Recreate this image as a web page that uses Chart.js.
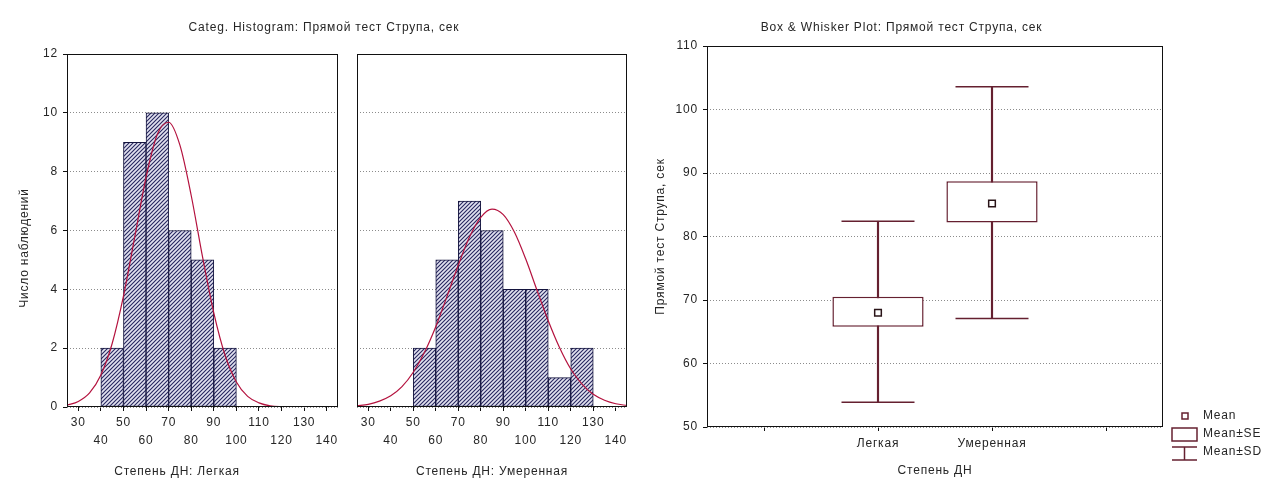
<!DOCTYPE html>
<html>
<head>
<meta charset="utf-8">
<script src="https://cdn.jsdelivr.net/npm/chart.js@4.4.1/dist/chart.umd.min.js"></script>
<style>
  body { margin: 0; background: #fff; width: 1266px; height: 480px; overflow: hidden; position: relative; }
  canvas { position: absolute; top: 0; }
</style>
</head>
<body>
<canvas id="histLight" width="640" height="480" style="left:0"></canvas>
<canvas id="histMod" width="295" height="480" style="left:345px"></canvas>
<canvas id="boxPlot" width="626" height="480" style="left:640px"></canvas>
<script>
// histogram bins (start of each 10-sec bin) and counts
const binStartLight = [40, 50, 60, 70, 80, 90];
const countLight = [2, 9, 10, 6, 5, 2];
const binStartMod = [50, 60, 70, 80, 90, 100, 110, 120];
const countMod = [2, 5, 7, 6, 4, 4, 1, 2];

// fitted normal curves, every 5 sec
const curveX = [25, 30, 35, 40, 45, 50, 55, 60, 65, 70, 75, 80, 85, 90, 95, 100, 105, 110, 115, 120, 125, 130, 135, 140, 145];
const curveLight = [0.06, 0.19, 0.48, 1.09, 2.16, 3.77, 5.78, 7.81, 9.27, 9.68, 8.9, 7.19, 5.11, 3.2, 1.76, 0.85, 0.36, 0.14, 0.04, 0.01, 0, 0, 0, 0, 0];
const curveMod = [0.04, 0.09, 0.2, 0.38, 0.69, 1.18, 1.86, 2.73, 3.76, 4.82, 5.78, 6.45, 6.73, 6.54, 5.94, 5.03, 3.97, 2.93, 2.02, 1.29, 0.78, 0.43, 0.23, 0.11, 0.05];

const histTicks = [30, 40, 50, 60, 70, 80, 90, 100, 110, 120, 130, 140];

// box & whisker
const groups = ['', 'Легкая', 'Умеренная', ''];
const meanVals = [null, 68.0, 85.2, null];
const seLow = [null, 65.8, 82.2, null];
const seHigh = [null, 70.5, 88.7, null];
const sdLow = [null, 53.9, 67.1, null];
const sdHigh = [null, 82.4, 103.6, null];

const ink = '#262626';
const curveColor = '#b4123e';
const boxInk = '#652030';
const fontFamily = "'Liberation Sans', Arial, sans-serif";

Chart.defaults.font.family = fontFamily;
Chart.defaults.font.size = 12;
Chart.defaults.color = ink;
Chart.defaults.animation = false;
Chart.defaults.events = [];
Chart.defaults.plugins.legend.display = false;
Chart.defaults.plugins.tooltip.enabled = false;

// statistica text is spaced out a bit
Chart.register({ id: 'spacing', beforeDraw(chart) { chart.ctx.letterSpacing = '0.8px'; } });

const frame = {
  id: 'frame',
  afterDatasetsDraw(chart) {
    const a = chart.chartArea, ctx = chart.ctx;
    ctx.save();
    ctx.strokeStyle = '#111';
    ctx.lineWidth = 1;
    ctx.strokeRect(Math.round(a.left) + 0.5, Math.round(a.top) + 0.5, Math.round(a.right - a.left) - 1, Math.round(a.bottom - a.top) - 1);
    ctx.restore();
  }
};

function makeHatch() {
  const c = document.createElement('canvas');
  c.width = 4; c.height = 4;
  const g = c.getContext('2d');
  g.fillStyle = '#e2e2f0';
  g.fillRect(0, 0, 4, 4);
  g.strokeStyle = '#26265e';
  g.lineWidth = 1.1;
  g.beginPath();
  g.moveTo(0, 4); g.lineTo(4, 0);
  g.moveTo(-1, 1); g.lineTo(1, -1);
  g.moveTo(3, 5); g.lineTo(5, 3);
  g.stroke();
  return g.createPattern(c, 'repeat');
}
const hatch = makeHatch();

function histData(starts, counts, curve) {
  return {
    datasets: [{
      type: 'line',
      data: curveX.map((x, i) => ({ x: x, y: curve[i] })),
      borderColor: curveColor,
      borderWidth: 1.2,
      pointRadius: 0,
      tension: 0.4,
      cubicInterpolationMode: 'monotone',
      order: 0
    }, {
      type: 'bar',
      data: starts.map((s, i) => ({ x: s + 5, y: counts[i] })),
      backgroundColor: hatch,
      borderColor: '#14143e',
      borderWidth: 1,
      borderSkipped: false,
      barPercentage: 1,
      categoryPercentage: 1,
      order: 1
    }]
  };
}

function histX(titleText) {
  return {
    type: 'linear',
    min: 25,
    max: 145,
    offset: false,
    afterBuildTicks(scale) { scale.ticks = histTicks.map(v => ({ value: v })); },
    afterFit(scale) { scale.height = 73; },
    ticks: {
      font: { size: 12, lineHeight: 1.5 },
      padding: 3,
      maxRotation: 0,
      autoSkip: false,
      callback: v => ((v / 10) % 2 === 1 ? String(v) : ['', String(v)])
    },
    grid: { drawOnChartArea: false, offset: false, tickLength: 4, tickColor: '#111' },
    border: { display: false },
    title: titleText ? { display: true, text: titleText, padding: { top: 0, bottom: 1 } } : { display: false }
  };
}

function histY(width, showLabels) {
  return {
    min: 0,
    max: 12,
    afterFit(scale) { scale.width = width; },
    ticks: { stepSize: 2, display: showLabels, padding: 5 },
    grid: { color: '#8c8c8c', drawTicks: showLabels, tickLength: 4, tickColor: '#111', tickBorderDash: [] },
    border: { display: false, dash: [1, 2] }
  };
}

const lightTitles = {
  id: 'lightTitles',
  afterDraw(chart) {
    const ctx = chart.ctx;
    ctx.save();
    ctx.fillStyle = ink;
    ctx.font = '12px ' + fontFamily;
    ctx.textAlign = 'center';
    ctx.textBaseline = 'middle';
    ctx.fillText('Степень ДН: Легкая', 177, 472);
    ctx.translate(25, 248);
    ctx.rotate(-Math.PI / 2);
    ctx.fillText('Число наблюдений', 0, 0);
    ctx.restore();
  }
};

new Chart(document.getElementById('histLight'), {
  type: 'bar',
  data: histData(binStartLight, countLight, curveLight),
  options: {
    responsive: false,
    layout: { padding: { left: 8, right: 0, top: 0, bottom: 0 } },
    plugins: {
      title: {
        display: true,
        text: 'Categ. Histogram: Прямой тест Струпа, сек',
        font: { size: 12, weight: 'normal' },
        color: ink,
        padding: { top: 20, bottom: 19.6 }
      }
    },
    scales: {
      x: histX(null),
      y: histY(59, true),
      pad: {
        position: 'right',
        display: true,
        afterFit(scale) { scale.width = 302; },
        ticks: { display: false },
        grid: { display: false },
        border: { display: false }
      }
    }
  },
  plugins: [frame, lightTitles]
});

new Chart(document.getElementById('histMod'), {
  type: 'bar',
  data: histData(binStartMod, countMod, curveMod),
  options: {
    responsive: false,
    layout: { padding: { top: 54, right: 13, left: 0, bottom: 0 } },
    scales: {
      x: histX('Степень ДН: Умеренная'),
      y: histY(12, false)
    }
  },
  plugins: [frame]
});

const boxLegend = {
  id: 'boxLegend',
  afterDraw(chart) {
    const ctx = chart.ctx;
    ctx.save();
    ctx.strokeStyle = boxInk;
    ctx.fillStyle = '#fff';
    ctx.lineWidth = 1.5;
    ctx.fillRect(542, 413, 6, 6);
    ctx.strokeRect(542, 413, 6, 6);
    ctx.fillRect(532, 428, 25, 13);
    ctx.strokeRect(532, 428, 25, 13);
    ctx.beginPath();
    ctx.moveTo(532, 447); ctx.lineTo(557, 447);
    ctx.moveTo(544.5, 447); ctx.lineTo(544.5, 460);
    ctx.moveTo(532, 460); ctx.lineTo(557, 460);
    ctx.stroke();
    ctx.fillStyle = ink;
    ctx.font = '12px ' + fontFamily;
    ctx.textAlign = 'left';
    ctx.textBaseline = 'middle';
    ctx.fillText('Mean', 563, 416);
    ctx.fillText('Mean±SE', 563, 434);
    ctx.fillText('Mean±SD', 563, 452);
    ctx.restore();
  }
};

new Chart(document.getElementById('boxPlot'), {
  type: 'bar',
  data: {
    labels: groups,
    datasets: [{
      // SD stem
      type: 'bar',
      data: groups.map((g, i) => (sdLow[i] == null ? null : [sdLow[i], sdHigh[i]])),
      backgroundColor: boxInk,
      borderWidth: 0,
      barThickness: 1.5,
      grouped: false,
      order: 3
    }, {
      // mean +- SE box
      type: 'bar',
      data: groups.map((g, i) => (seLow[i] == null ? null : [seLow[i], seHigh[i]])),
      backgroundColor: '#ffffff',
      borderColor: boxInk,
      borderWidth: 1.5,
      borderSkipped: false,
      barPercentage: 0.8,
      categoryPercentage: 1,
      grouped: false,
      order: 2
    }, {
      type: 'line',
      data: sdHigh,
      showLine: false,
      pointStyle: 'line',
      pointRadius: 36.5,
      borderColor: boxInk,
      pointBorderWidth: 1.5,
      order: 1
    }, {
      type: 'line',
      data: sdLow,
      showLine: false,
      pointStyle: 'line',
      pointRadius: 36.5,
      borderColor: boxInk,
      pointBorderWidth: 1.5,
      order: 1
    }, {
      type: 'line',
      data: meanVals,
      showLine: false,
      pointStyle: 'rect',
      pointRadius: 4.7,
      pointBackgroundColor: '#ffffff',
      pointBorderColor: '#2a1418',
      pointBorderWidth: 1.5,
      order: 0
    }]
  },
  options: {
    responsive: false,
    layout: { padding: { top: 0, right: 103, left: 0, bottom: 0 } },
    plugins: {
      title: {
        display: true,
        text: 'Box & Whisker Plot: Прямой тест Струпа, сек',
        font: { size: 12, weight: 'normal' },
        color: ink,
        padding: { top: 20, bottom: 11.6 }
      }
    },
    scales: {
      x: {
        type: 'category',
        afterFit(scale) { scale.height = 53; },
        ticks: { padding: 5, maxRotation: 0, autoSkip: false },
        grid: { drawOnChartArea: false, offset: false, tickLength: 4, tickColor: '#111' },
        border: { display: false },
        title: { display: true, text: 'Степень ДН', padding: { top: 0, bottom: 2 } }
      },
      y: {
        min: 50,
        max: 110,
        afterFit(scale) { scale.width = 67; },
        ticks: { stepSize: 10, padding: 5 },
        grid: { color: '#8c8c8c', tickLength: 4, tickColor: '#111', tickBorderDash: [] },
        border: { display: false, dash: [1, 2] },
        title: { display: true, text: 'Прямой тест Струпа, сек', padding: { top: 13, bottom: 0 } }
      }
    }
  },
  plugins: [frame, boxLegend]
});
</script>
</body>
</html>
